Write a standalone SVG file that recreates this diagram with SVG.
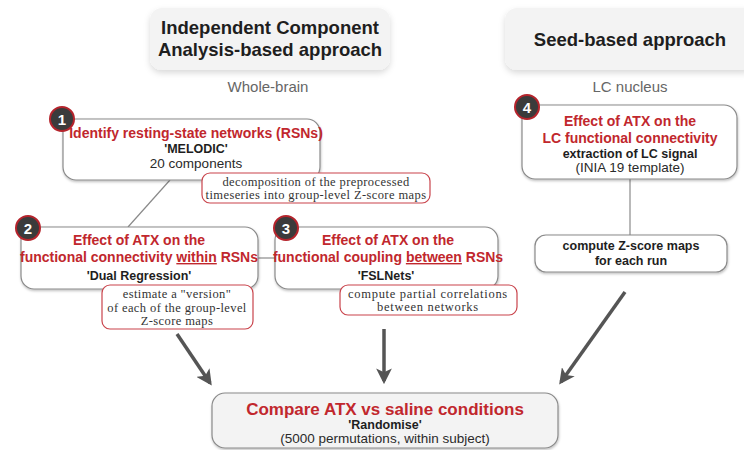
<svg xmlns="http://www.w3.org/2000/svg" width="744" height="450" viewBox="0 0 744 450">
<defs>
<style>
.hdr{fill:#f3f3f3;filter:url(#sh2)}
.box{fill:#fff;stroke:#8a8a8a;stroke-width:1.2;filter:url(#sh)}
.note{fill:#fff;stroke:#c9434b;stroke-width:1.2}
.badge{fill:#3b3b3b;stroke:#b5242c;stroke-width:2}
.bnum{font-family:"Liberation Sans",Arial,sans-serif;font-weight:bold;font-size:15px;fill:#fff;text-anchor:middle}
.h{font-family:"Liberation Sans",Arial,sans-serif;font-weight:bold;font-size:18.5px;fill:#1e1e1e;text-anchor:middle}
.sub{font-family:"Liberation Sans",Arial,sans-serif;font-size:15px;fill:#666;text-anchor:middle}
.t{font-family:"Liberation Sans",Arial,sans-serif;font-weight:bold;font-size:14px;fill:#c1272d;text-anchor:middle}
.b{font-family:"Liberation Sans",Arial,sans-serif;font-weight:bold;font-size:12.5px;fill:#1e1e1e;text-anchor:middle}
.r{font-family:"Liberation Sans",Arial,sans-serif;font-size:13.5px;fill:#2a2a2a;text-anchor:middle}
.s{font-family:"Liberation Serif","Times New Roman",serif;font-size:12.5px;letter-spacing:0.4px;fill:#333;text-anchor:middle}
.u{text-decoration:underline}
.ln{stroke:#8a8a8a;stroke-width:1.2;fill:none}
.arr{stroke:#555;stroke-width:3.5;fill:none;marker-end:url(#ah)}
</style>
<filter id="sh" x="-5%" y="-10%" width="110%" height="130%">
<feDropShadow dx="0.5" dy="1.5" stdDeviation="1" flood-color="#000" flood-opacity="0.25"/>
</filter>
<filter id="sh2" x="-10%" y="-20%" width="120%" height="150%">
<feDropShadow dx="0" dy="3" stdDeviation="3" flood-color="#000" flood-opacity="0.15"/>
</filter>
<marker id="ah" viewBox="0 0 10 10" refX="8" refY="5" markerWidth="4.5" markerHeight="4.5" orient="auto" markerUnits="strokeWidth">
<path d="M0,0 L10,5 L0,10 L2.5,5 Z" fill="#555"/>
</marker>
</defs>
<rect width="744" height="450" fill="#fff"/>

<g id="header-ica">
<rect class="hdr" x="150" y="8" width="240" height="62" rx="12"/>
<text class="h" x="270" y="34">Independent Component</text>
<text class="h" x="270" y="56">Analysis-based approach</text>
<text class="sub" x="268" y="92">Whole-brain</text>
</g>

<g id="header-seed">
<rect class="hdr" x="505" y="8" width="250" height="62" rx="12"/>
<text class="h" x="630" y="46">Seed-based approach</text>
<text class="sub" x="630" y="92">LC nucleus</text>
</g>

<g id="connectors">
<line class="ln" x1="170" y1="180" x2="128" y2="227"/>
<line class="ln" x1="257" y1="258" x2="275" y2="258"/>
<line class="ln" x1="630" y1="179" x2="630" y2="235"/>
<line class="arr" x1="177" y1="334" x2="210" y2="383"/>
<line class="arr" x1="384" y1="329" x2="384" y2="381"/>
<line class="arr" x1="625" y1="292" x2="561" y2="382"/>
</g>

<g id="node1">
<rect class="box" x="63" y="119" width="257" height="61" rx="13"/>
<circle class="badge" cx="62" cy="119" r="12"/>
<text class="bnum" x="62" y="124.5">1</text>
<text class="t" x="196" y="138">Identify resting-state networks (RSNs)</text>
<text class="b" x="196" y="153">'MELODIC'</text>
<text class="r" x="196" y="168">20 components</text>
</g>

<g id="note1">
<rect class="note" x="202" y="173" width="228" height="30" rx="8"/>
<text class="s" x="316" y="186">decomposition of the preprocessed</text>
<text class="s" x="316" y="199">timeseries into group-level Z-score maps</text>
</g>

<g id="node2">
<rect class="box" x="21" y="227" width="237" height="62" rx="13"/>
<circle class="badge" cx="28" cy="228" r="12"/>
<text class="bnum" x="28" y="233.5">2</text>
<text class="t" x="139" y="245">Effect of ATX on the</text>
<text class="t" x="139" y="262">functional connectivity <tspan class="u">within</tspan> RSNs</text>
<text class="b" x="139" y="280">'Dual Regression'</text>
</g>

<g id="note2">
<rect class="note" x="102" y="285" width="151" height="44" rx="8"/>
<text class="s" x="177" y="298">estimate a "version"</text>
<text class="s" x="177" y="311.5">of each of the group-level</text>
<text class="s" x="177" y="325">Z-score maps</text>
</g>

<g id="node3">
<rect class="box" x="275" y="227" width="223" height="62" rx="13"/>
<circle class="badge" cx="286" cy="228" r="12"/>
<text class="bnum" x="286" y="233.5">3</text>
<text class="t" x="388" y="245">Effect of ATX on the</text>
<text class="t" x="388" y="262">functional coupling <tspan class="u">between</tspan> RSNs</text>
<text class="b" x="386" y="280">'FSLNets'</text>
</g>

<g id="note3">
<rect class="note" x="340" y="285" width="177" height="30" rx="8"/>
<text class="s" x="428" y="298" style="letter-spacing:0.7px">compute partial correlations</text>
<text class="s" x="428" y="311" style="letter-spacing:0.7px">between networks</text>
</g>

<g id="node4">
<rect class="box" x="522" y="105" width="215" height="74" rx="13"/>
<circle class="badge" cx="527" cy="107" r="12"/>
<text class="bnum" x="527" y="112.5">4</text>
<text class="t" x="630" y="126">Effect of ATX on the</text>
<text class="t" x="630" y="143">LC functional connectivity</text>
<text class="b" x="630" y="158">extraction of LC signal</text>
<text class="r" x="630" y="172">(INIA 19 template)</text>
</g>

<g id="node5">
<rect class="box" x="535" y="235" width="192" height="37" rx="11"/>
<text class="b" x="631" y="250">compute Z-score maps</text>
<text class="b" x="631" y="265">for each run</text>
</g>

<g id="node6">
<rect class="box" x="212" y="393" width="346" height="55" rx="13" style="fill:#f3f3f3"/>
<text class="t" x="385" y="415" style="font-size:17px">Compare ATX vs saline conditions</text>
<text class="b" x="385" y="429">'Randomise'</text>
<text class="r" x="385" y="443">(5000 permutations, within subject)</text>
</g>
</svg>
